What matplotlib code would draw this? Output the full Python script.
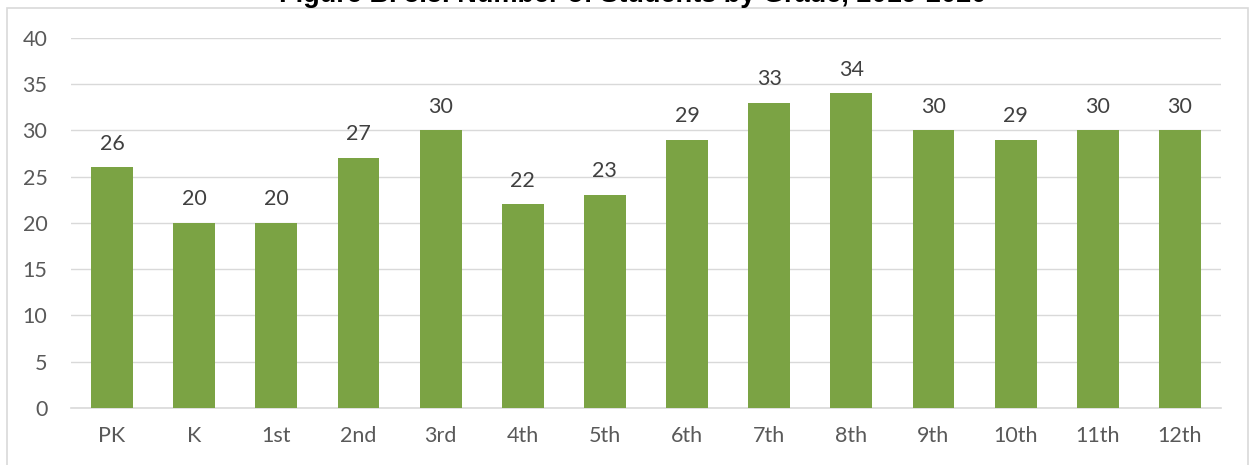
import matplotlib
matplotlib.use('Agg')
import matplotlib.pyplot as plt
from matplotlib.patches import Rectangle

# Students enrolled per grade
grades = ['PK', 'K', '1st', '2nd', '3rd', '4th', '5th', '6th', '7th',
          '8th', '9th', '10th', '11th', '12th']
students = [26, 20, 20, 27, 30, 22, 23, 29, 33, 34, 30, 29, 30, 30]
y_ticks = [0, 5, 10, 15, 20, 25, 30, 35, 40]

title = 'Figure B. 5.5. Number of Students by Grade, 2019-2020'

bar_color = '#7BA344'
grid_color = '#D9D9D9'
text_color = '#595959'
font = ['Lato', 'DejaVu Sans']

fig = plt.figure(figsize=(12.5, 4.65), dpi=100)
ax = fig.add_axes([0.0568, 0.1226, 0.92, 0.7957])

x = range(len(grades))
ax.bar(x, students, width=0.51, color=bar_color, zorder=3)

for xi, v in zip(x, students):
    ax.annotate(str(v), (xi, v), xytext=(0, 10), textcoords='offset points',
                ha='center', va='bottom', fontsize=15.5, color='#404040',
                family=font)

ax.set_xlim(-0.5, len(grades) - 0.5)
ax.set_ylim(0, 40)
ax.set_yticks(y_ticks)
ax.set_xticks(list(x))
ax.set_xticklabels(grades)
ax.yaxis.grid(True, color=grid_color, linewidth=1, zorder=0)
for s in ['top', 'right', 'left']:
    ax.spines[s].set_visible(False)
ax.spines['bottom'].set_color(grid_color)
ax.spines['bottom'].set_linewidth(1.2)
ax.tick_params(length=0, colors=text_color, labelsize=15.5, pad=13)
ax.tick_params(axis='y', pad=17)
for lbl in ax.get_xticklabels() + ax.get_yticklabels():
    lbl.set_family(font)

# light chart-area border, title sits above it and runs off the top
fig.patches.append(Rectangle((7 / 1250, -0.05), 1241 / 1250, 1.05 - 8 / 465,
                             transform=fig.transFigure, fill=False,
                             edgecolor='#D9D9D9', linewidth=1.2))
fig.text(633 / 1250, 1 - 2.5 / 465, title, ha='center', va='baseline',
         fontsize=19.5, fontweight='bold', family='Liberation Sans',
         color='black')

fig.savefig('out.png', dpi=100)
